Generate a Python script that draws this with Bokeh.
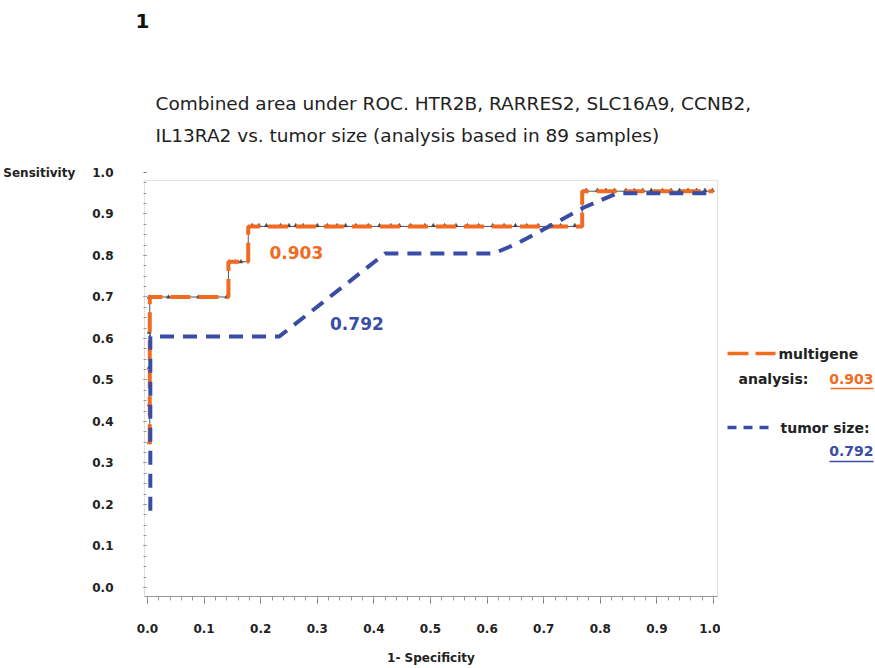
from bokeh.plotting import figure
from bokeh.layouts import column, row
from bokeh.models import (Label, FixedTicker, Range1d, BoxAnnotation,
                          NumeralTickFormatter)
from bokeh.core.properties import value
from bokeh.embed import file_html
from bokeh.resources import INLINE

# ---------------- data ----------------
multigene_fpr = [0.004, 0.004, 0.143, 0.143, 0.178, 0.178, 0.768, 0.768, 1.0]
multigene_tpr = [0.345, 0.700, 0.700, 0.785, 0.785, 0.870, 0.870, 0.955, 0.955]

tumor_fpr = [0.005, 0.005, 0.233, 0.42, 0.612, 0.655, 0.77, 0.83, 1.0]
tumor_tpr = [0.185, 0.605, 0.605, 0.805, 0.805, 0.83, 0.915, 0.950, 0.950]

censor_x = [0.003, 0.003, 0.003, 0.003, 0.003,
            0.037, 0.09, 0.14,
            0.145, 0.155, 0.165,
            0.185, 0.197, 0.21, 0.235, 0.25, 0.262, 0.275, 0.30, 0.318, 0.335,
            0.35, 0.368, 0.39, 0.41, 0.43, 0.445, 0.465, 0.49, 0.505, 0.525,
            0.545, 0.565, 0.585, 0.61, 0.63, 0.65, 0.67, 0.69, 0.71, 0.73, 0.755,
            0.775, 0.795, 0.81, 0.825, 0.845, 0.86, 0.875, 0.89, 0.91, 0.925,
            0.94, 0.955, 0.97, 0.985, 0.998]
censor_y = [0.35, 0.44, 0.53, 0.615, 0.70,
            0.70, 0.70, 0.70,
            0.785, 0.785, 0.785] + [0.872] * 31 + [0.957] * 15

series_names = ["multigene", "tumor size:"]
auc_multigene = "0.903"
auc_tumor = "0.792"

x_ticks = [0.0, 0.1, 0.2, 0.3, 0.4, 0.5, 0.6, 0.7, 0.8, 0.9, 1.0]
y_ticks = [0.0, 0.1, 0.2, 0.3, 0.4, 0.5, 0.6, 0.7, 0.8, 0.9, 1.0]

title_lines = ["Combined area under ROC. HTR2B, RARRES2, SLC16A9, CCNB2,",
               "IL13RA2 vs. tumor size (analysis based in 89 samples)"]

ORANGE = "#F26A1F"
BLUE = "#3A4DA6"
FONT = "DejaVu Sans"
TXT = "#222222"

# box of the plot area (data units)
BOX_L, BOX_R, BOX_B, BOX_T = -0.0053, 1.007, -0.0217, 0.981

# ---------------- title strip (pixel coordinates) ----------------
t = figure(width=875, height=160, output_backend="svg", toolbar_location=None,
           x_range=Range1d(0, 875), y_range=Range1d(160, 0),
           x_axis_type=None, y_axis_type=None, min_border=0)
t.grid.visible = False
t.outline_line_color = None
t.text(x=[135], y=[20], text=["1"], text_font=value(FONT),
       text_font_style="bold", text_font_size="20px", text_color="#111111",
       text_baseline="middle", text_align="left")
t.text(x=[155, 155], y=[103, 135], text=title_lines, text_font=value(FONT),
       text_font_size="18.5px", text_color=TXT, text_baseline="middle",
       text_align="left")

# ---------------- main plot ----------------
p = figure(width=720, height=508, output_backend="svg", toolbar_location=None,
           x_range=Range1d(-0.00705, 1.00882), y_range=Range1d(BOX_B, 1.0),
           min_border_left=142, min_border_right=2, min_border_top=12,
           min_border_bottom=72)
p.grid.visible = False
p.outline_line_color = None
p.background_fill_color = "white"
p.border_fill_color = "white"

p.add_layout(BoxAnnotation(left=BOX_L, right=BOX_R, bottom=BOX_B, top=BOX_T,
                           fill_color=None, fill_alpha=0,
                           line_color="#999999", line_width=1))

p.xaxis.ticker = FixedTicker(ticks=x_ticks,
                             minor_ticks=[i / 50 for i in range(51)])
p.yaxis.ticker = FixedTicker(ticks=y_ticks,
                             minor_ticks=[i / 40 for i in range(40)])
for ax in (p.xaxis[0], p.yaxis[0]):
    ax.formatter = NumeralTickFormatter(format="0.0")
    ax.major_tick_line_color = "#777777"
    ax.minor_tick_line_color = "#999999"
    ax.major_label_text_font = FONT
    ax.major_label_text_font_style = "bold"
    ax.major_label_text_font_size = "12px"
    ax.major_label_text_color = TXT
    ax.axis_label_text_font = FONT
    ax.axis_label_text_font_style = "bold"
    ax.axis_label_text_font_size = "12px"
    ax.axis_label_text_color = TXT

p.xaxis.bounds = (BOX_L, BOX_R)
p.xaxis.axis_line_color = "#999999"
p.xaxis.major_tick_out = 7
p.xaxis.major_tick_in = 0
p.xaxis.minor_tick_out = 4
p.xaxis.minor_tick_in = 0
p.xaxis.major_label_standoff = 20
p.xaxis.axis_label = "1- Specificity"
p.xaxis.axis_label_standoff = 15

p.yaxis.axis_line_color = None
p.yaxis.major_tick_out = 0
p.yaxis.major_tick_in = 3
p.yaxis.minor_tick_out = 0
p.yaxis.minor_tick_in = 3
p.yaxis.major_label_standoff = 30
p.yaxis.axis_label = "Sensitivity"
p.yaxis.axis_label_orientation = "horizontal"
p.yaxis.axis_label_align = "end"
p.yaxis.axis_label_standoff = 14

p.line(multigene_fpr, multigene_tpr, line_color="#555555", line_width=1)
p.scatter(censor_x, censor_y, marker="triangle", size=4,
          fill_color="#444444", line_color="#444444", line_width=0.5)
p.line(multigene_fpr, multigene_tpr, line_color=ORANGE, line_width=4,
       line_dash="20 8")
p.line(tumor_fpr, tumor_tpr, line_color=BLUE, line_width=4,
       line_dash="14 9")

p.add_layout(Label(x=0.263, y=0.807, text=auc_multigene, text_color=ORANGE,
                   text_font=FONT, text_font_style="bold",
                   text_font_size="17px", text_align="center",
                   text_baseline="middle"))
p.add_layout(Label(x=0.370, y=0.636, text=auc_tumor, text_color=BLUE,
                   text_font=FONT, text_font_style="bold",
                   text_font_size="17px", text_align="center",
                   text_baseline="middle"))

# ---------------- legend strip (page pixel coordinates) ----------------
# its frame is aligned with the main plot's frame (page y 172..596)
g = figure(width=155, height=508, output_backend="svg", toolbar_location=None,
           x_range=Range1d(720, 875), y_range=Range1d(596, 172),
           x_axis_type=None, y_axis_type=None, min_border=0)
g.grid.visible = False
g.outline_line_color = None

g.line([727, 775], [353, 353], line_color=ORANGE, line_width=3.5,
       line_dash="21 7")
g.line([727, 770], [427, 427], line_color=BLUE, line_width=3.5,
       line_dash="9 7")
g.text(x=[778, 738, 780], y=[353, 378, 427],
       text=[series_names[0], "analysis:", series_names[1]],
       text_font=value(FONT), text_font_style="bold", text_font_size="14px",
       text_color=TXT, text_baseline="middle", text_align="left")
g.text(x=[873, 873], y=[378, 450], text=[auc_multigene, auc_tumor],
       text_font=value(FONT), text_font_style="bold", text_font_size="14px",
       text_color=[ORANGE, BLUE], text_baseline="middle", text_align="right")
g.segment(x0=[830, 829], y0=[388, 461], x1=[873, 873], y1=[388, 461],
          line_color=[ORANGE, BLUE], line_width=1.5)

layout = column(t, row(p, g, spacing=0), spacing=0)
open("out.html", "w").write(file_html(layout, INLINE))
